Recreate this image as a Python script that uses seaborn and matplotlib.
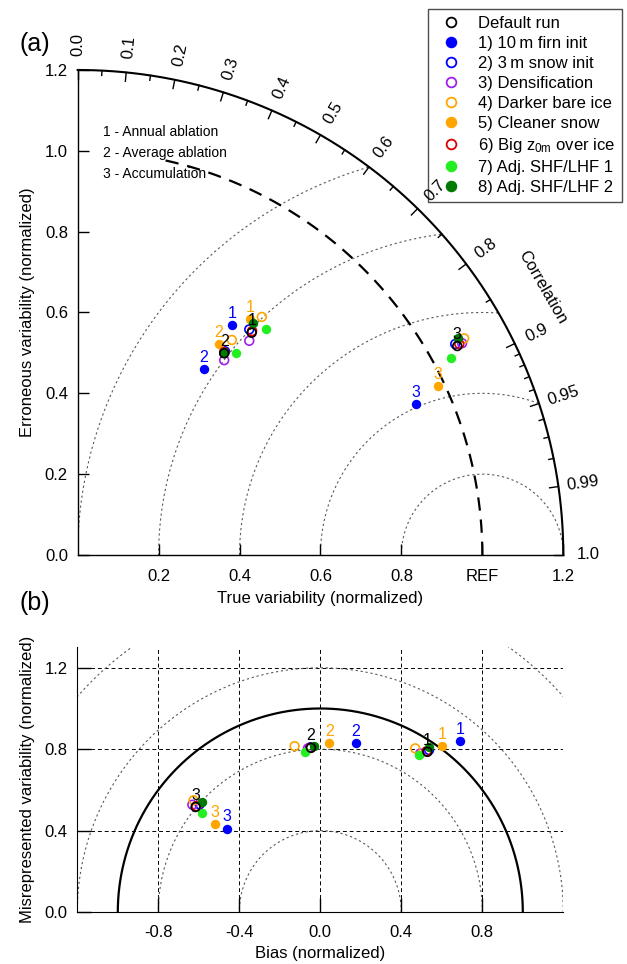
import numpy as np
import pandas as pd
import seaborn as sns
import matplotlib.pyplot as plt
from matplotlib.lines import Line2D

plt.rcParams['font.family'] = ['Liberation Sans', 'DejaVu Sans']
plt.rcParams['mathtext.default'] = 'regular'
plt.rcParams['axes.unicode_minus'] = False

# runs (legend order)
runs = ['Default run', '1) 10\u2009m firn init', '2) 3\u2009m snow init', '3) Densification',
        '4) Darker bare ice', '5) Cleaner snow', r'6) Big z$_{0m}$ over ice',
        '7) Adj. SHF/LHF 1', '8) Adj. SHF/LHF 2']
colors = ['black', '#0000ff', '#0000ff', '#a020f0', '#ffa500', '#ffa500', '#dd0000', '#22ee22', '#007a00']
filled = [False, True, False, False, False, True, False, True, True]
groups = ['1', '2', '3']  # 1 - annual ablation, 2 - average ablation, 3 - accumulation
group_names = ['1 - Annual ablation', '2 - Average ablation', '3 - Accumulation']

# (a) true variability / erroneous variability, one value per group (1, 2, 3)
true_var = [
    [0.430, 0.362, 0.938],
    [0.381, 0.312, 0.836],
    [0.424, 0.364, 0.933],
    [0.424, 0.362, 0.950],
    [0.455, 0.381, 0.955],
    [0.426, 0.348, 0.891],
    [0.431, 0.362, 0.943],
    [0.465, 0.391, 0.923],
    [0.433, 0.362, 0.940],
]
err_var = [
    [0.550, 0.499, 0.517],
    [0.569, 0.460, 0.373],
    [0.558, 0.504, 0.522],
    [0.530, 0.482, 0.524],
    [0.589, 0.532, 0.536],
    [0.583, 0.522, 0.418],
    [0.554, 0.502, 0.522],
    [0.560, 0.500, 0.487],
    [0.574, 0.503, 0.536],
]
# (b) bias / misrepresented variability
bias = [
    [0.529, -0.046, -0.616],
    [0.691, 0.176, -0.461],
    [0.537, -0.050, -0.596],
    [0.493, -0.061, -0.632],
    [0.469, -0.127, -0.626],
    [0.602, 0.044, -0.521],
    [0.525, -0.048, -0.612],
    [0.489, -0.075, -0.582],
    [0.539, -0.032, -0.586],
]
mis_var = [
    [0.787, 0.807, 0.516],
    [0.840, 0.829, 0.409],
    [0.796, 0.809, 0.529],
    [0.779, 0.804, 0.527],
    [0.804, 0.815, 0.549],
    [0.815, 0.829, 0.433],
    [0.790, 0.806, 0.520],
    [0.771, 0.787, 0.488],
    [0.812, 0.815, 0.540],
]
labelled_runs = [0, 1, 5]  # runs that carry the group number

corr_major = [0.0, 0.1, 0.2, 0.3, 0.4, 0.5, 0.6, 0.7, 0.8, 0.9, 0.95, 0.99, 1.0]
corr_minor = [0.05, 0.15, 0.25, 0.35, 0.45, 0.55, 0.65, 0.75, 0.85, 0.91, 0.92, 0.93, 0.94, 0.96, 0.97, 0.98]


def draw_points(ax, xs, ys):
    order = list(range(1, len(runs))) + [0]
    for i in order:
        df = pd.DataFrame({'x': xs[i], 'y': ys[i]})
        if filled[i]:
            sns.scatterplot(data=df, x='x', y='y', ax=ax, marker='o', s=46, color=colors[i],
                            edgecolor=colors[i], linewidth=0, zorder=5, clip_on=False)
        else:
            sns.scatterplot(data=df, x='x', y='y', ax=ax, marker='o', s=40, fc='none',
                            ec=colors[i], linewidth=1.2, zorder=5, clip_on=False)
    for i in labelled_runs:
        for g, x, y in zip(groups, xs[i], ys[i]):
            ax.annotate(g, (x, y), xytext=(0, 8.5), textcoords='offset points', ha='center',
                        va='center', color=colors[i], fontsize=11.5, zorder=6)
    ax.set_xlabel('')
    ax.set_ylabel('')


fig = plt.figure(figsize=(6.27, 9.64), dpi=100)

# ---------------- (a) Taylor-like diagram ----------------
ax1 = fig.add_axes([0.1239, 0.4243, 0.7745, 0.5031])
ax1.set_xlim(0, 1.2)
ax1.set_ylim(0, 1.2)
ax1.spines[['top', 'right']].set_visible(False)
ax1.spines[['left', 'bottom']].set_linewidth(1.0)

th = np.linspace(0, np.pi / 2, 400)
ax1.plot(1.2 * np.cos(th), 1.2 * np.sin(th), color='black', lw=1.5, clip_on=False, zorder=3)

# RMS-type arcs around REF
phi = np.linspace(0, np.pi, 600)
for r in [0.2, 0.4, 0.6, 0.8, 1.0]:
    x = 1 + r * np.cos(phi)
    y = r * np.sin(phi)
    keep = (x ** 2 + y ** 2 <= 1.44) & (x >= 0)
    ax1.plot(np.where(keep, x, np.nan), np.where(keep, y, np.nan), color='0.35', lw=0.8,
             ls=(0, (2, 2.5)), zorder=1)

# reference arc
th_ref = np.linspace(0, np.radians(77.5), 300)
ax1.plot(np.cos(th_ref), np.sin(th_ref), color='black', lw=1.6, ls=(0, (6, 4)), zorder=2)

# correlation ticks and labels
for c in corr_major + corr_minor:
    a = np.arccos(c)
    ln = 0.022 if c in corr_major else 0.012
    ax1.plot([1.2 * np.cos(a), (1.2 - ln) * np.cos(a)], [1.2 * np.sin(a), (1.2 - ln) * np.sin(a)],
             color='black', lw=1.0, clip_on=False, zorder=3)
for c in corr_major:
    a = np.arccos(c)
    lab = '%.2f' % c if c in (0.95, 0.99) else '%.1f' % c
    ax1.text(1.262 * np.cos(a), 1.262 * np.sin(a), lab, rotation=np.degrees(a), rotation_mode='anchor',
             ha='center', va='center', fontsize=12, zorder=8)
ax1.text(1.325 * np.cos(np.radians(30)), 1.325 * np.sin(np.radians(30)), 'Correlation',
         rotation=-60, rotation_mode='anchor', ha='center', va='center', fontsize=12)

ax1.set_xticks([0.2, 0.4, 0.6, 0.8, 1.0, 1.2])
ax1.set_xticklabels(['0.2', '0.4', '0.6', '0.8', 'REF', '1.2'])
ax1.set_yticks([0.0, 0.2, 0.4, 0.6, 0.8, 1.0, 1.2])
ax1.set_yticklabels(['0.0', '0.2', '0.4', '0.6', '0.8', '1.0', '1.2'])
ax1.tick_params(direction='in', length=8, width=1.0, labelsize=12, pad=10)
ax1.tick_params(axis='y', pad=7)

for k, name in enumerate(group_names):
    ax1.text(0.063, 1.047 - k * 0.052, name, fontsize=10, ha='left', va='center', zorder=4)

draw_points(ax1, true_var, err_var)
ax1.set_xlabel('True variability (normalized)', fontsize=12, labelpad=5)
ax1.set_ylabel('Erroneous variability (normalized)', fontsize=12, labelpad=7)
fig.text(35 / 627, 1 - 44 / 964, '(a)', fontsize=18, ha='center', va='center')

# legend (drawn under the correlation labels)
handles = [Line2D([], [], marker='o', ls='none', markersize=7, mew=1.3, mec=c,
                  mfc=c if f else 'none') for c, f in zip(colors, filled)]
leg = ax1.legend(handles, runs, loc='upper right', bbox_to_anchor=(621.7 / 627, 1 - 9.3 / 964),
                 bbox_transform=fig.transFigure, frameon=True, fancybox=False, edgecolor='0.3',
                 framealpha=1, fontsize=12, handletextpad=0.6, labelspacing=0.3, borderpad=0.4,
                 handlelength=2.0, borderaxespad=0)
leg.set_zorder(7)

# ---------------- (b) bias diagram ----------------
ax2 = fig.add_axes([0.1233, 0.0539, 0.7751, 0.2745])
ax2.set_xlim(-1.2, 1.2)
ax2.set_ylim(0, 1.3)
ax2.spines[['top', 'right']].set_visible(False)
for gx in [-0.8, -0.4, 0.0, 0.4, 0.8]:
    ax2.axvline(gx, color='black', lw=0.7, ls=(0, (4, 3)), zorder=1)
for gy in [0.4, 0.8, 1.2]:
    ax2.axhline(gy, color='black', lw=0.7, ls=(0, (4, 3)), zorder=1)
th2 = np.linspace(0, np.pi, 600)
for r in [0.4, 0.8, 1.2, 1.6]:
    ax2.plot(r * np.cos(th2), r * np.sin(th2), color='0.35', lw=0.8, ls=(0, (2, 2.5)), zorder=1)
ax2.plot(np.cos(th2), np.sin(th2), color='black', lw=1.6, zorder=2)

ax2.set_xticks([-0.8, -0.4, 0.0, 0.4, 0.8])
ax2.set_xticklabels(['-0.8', '-0.4', '0.0', '0.4', '0.8'])
ax2.set_yticks([0.0, 0.4, 0.8, 1.2])
ax2.set_yticklabels(['0.0', '0.4', '0.8', '1.2'])
ax2.tick_params(direction='in', length=10, width=1.0, labelsize=12, pad=9)
ax2.tick_params(axis='y', pad=7)

draw_points(ax2, bias, mis_var)
ax2.set_xlabel('Bias (normalized)', fontsize=12, labelpad=5)
ax2.set_ylabel('Misrepresented variability (normalized)', fontsize=12, labelpad=7)
fig.text(35 / 627, 1 - 603 / 964, '(b)', fontsize=18, ha='center', va='center')

fig.savefig('out.png', dpi=100)
